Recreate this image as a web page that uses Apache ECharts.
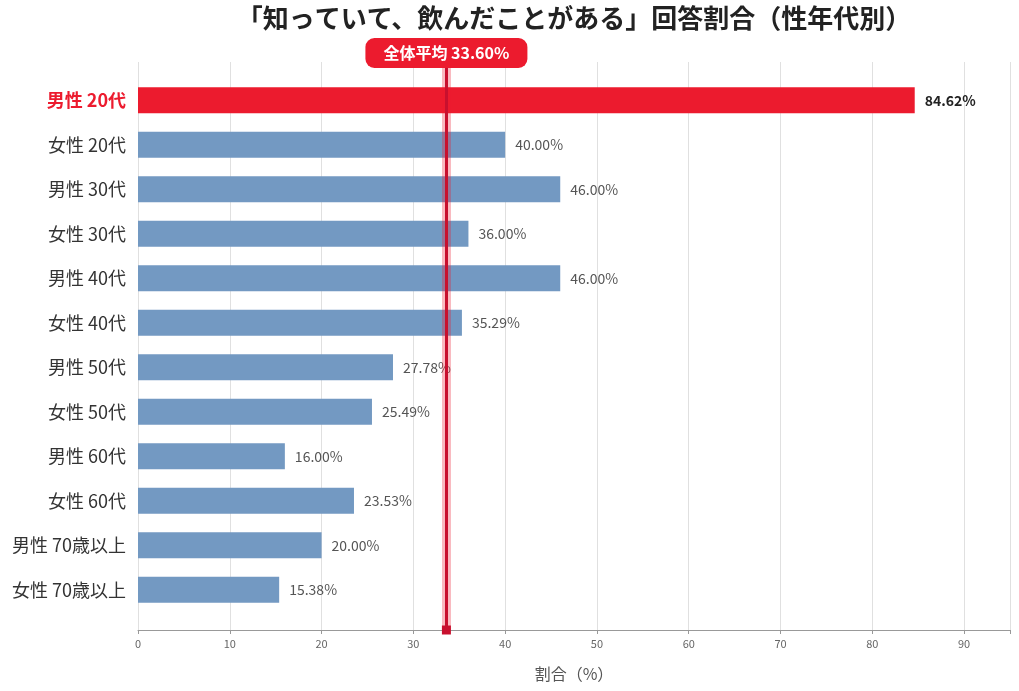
<!DOCTYPE html>
<html><head><meta charset="utf-8">
<script src="https://cdn.jsdelivr.net/npm/echarts@6/dist/echarts.min.js"></script>
<style>html,body{margin:0;padding:0;background:#fff}#c{width:1019px;height:691px}</style>
</head><body><div id="c"></div>
<script>
var categories = ['男性 20代', '女性 20代', '男性 30代', '女性 30代', '男性 40代', '女性 40代',
	'男性 50代', '女性 50代', '男性 60代', '女性 60代', '男性 70歳以上', '女性 70歳以上'];
var values = [84.62, 40.00, 46.00, 36.00, 46.00, 35.29, 27.78, 25.49, 16.00, 23.53, 20.00, 15.38];
var average = 33.60;
var xTicks = [0, 10, 20, 30, 40, 50, 60, 70, 80, 90];

window.onload = function () {
	"use strict";
	var chart = echarts.init(document.getElementById('c'));
	var font = '"Noto Sans CJK JP", "Noto Sans", sans-serif';
	var red = '#ec1b2e', blue = '#7399c2';

	var option = {
		animation: false,
		textStyle: { fontFamily: font },
		title: {
			text: '「知っていて、飲んだことがある」回答割合（性年代別）',
			left: 569, top: 0, textAlign: 'center',
			textStyle: { fontSize: 26, fontWeight: 'bold', color: '#222', fontFamily: font }
		},
		grid: [
			{ left: 138, right: 9, top: 62, bottom: 61 },
			{ left: 138, right: 9, top: 78, bottom: 79 }
		],
		xAxis: [{
			gridIndex: 0, type: 'value', min: 0, max: 95, interval: 10,
			name: '割合（%）', nameLocation: 'middle', nameGap: 36,
			nameTextStyle: { fontSize: 16, color: '#555', fontFamily: font },
			axisLine: { show: true, lineStyle: { color: '#999' } },
			axisTick: { show: true, length: 4, lineStyle: { color: '#999' } },
			axisLabel: {
				fontSize: 11, color: '#666',
				formatter: function (v) { return xTicks.indexOf(v) >= 0 ? v : ''; }
			},
			splitLine: { show: true, lineStyle: { color: '#e0e0e0' } }
		}, {
			gridIndex: 1, type: 'value', min: 0, max: 95, show: false
		}],
		yAxis: [{
			gridIndex: 0, type: 'value', min: 0, max: 1, show: false
		}, {
			gridIndex: 1, type: 'category', data: categories, inverse: true,
			axisLine: { show: false }, axisTick: { show: false },
			axisLabel: {
				fontSize: 18, color: '#333', margin: 12,
				formatter: function (v, i) { return i === 0 ? '{hl|' + v + '}' : v; },
				rich: { hl: { fontSize: 18, color: red, fontWeight: 'bold', fontFamily: font } }
			}
		}],
		series: [{
			type: 'bar', xAxisIndex: 1, yAxisIndex: 1, barWidth: 26,
			data: values.map(function (v, i) {
				return {
					value: v,
					itemStyle: { color: i === 0 ? red : blue },
					label: i === 0 ? { color: '#222', fontWeight: 'bold' } : {}
				};
			}),
			label: {
				show: true, position: 'right', distance: 10, fontSize: 14, color: '#555',
				formatter: function (p) { return p.value.toFixed(2) + '%'; }
			}
		}, {
			type: 'line', xAxisIndex: 0, yAxisIndex: 0, data: [],
			markLine: {
				silent: true, symbol: ['none', 'none'],
				data: [{
					xAxis: average,
					lineStyle: { color: 'rgba(236,27,46,0.3)', width: 9, type: 'solid' },
					label: { show: false }
				}, {
					xAxis: average,
					symbol: ['circle', 'none'], symbolSize: 9,
					lineStyle: { color: '#c8102e', width: 3, type: 'solid' },
					label: {
						show: true, position: 'end', distance: -6,
						formatter: '全体平均 ' + average.toFixed(2) + '%',
						backgroundColor: red, borderRadius: 9, padding: [7, 18],
						color: '#fff', fontSize: 16, fontWeight: 'bold', fontFamily: font
					}
				}]
			}
		}]
	};
	chart.setOption(option);
};
</script>
</body></html>
